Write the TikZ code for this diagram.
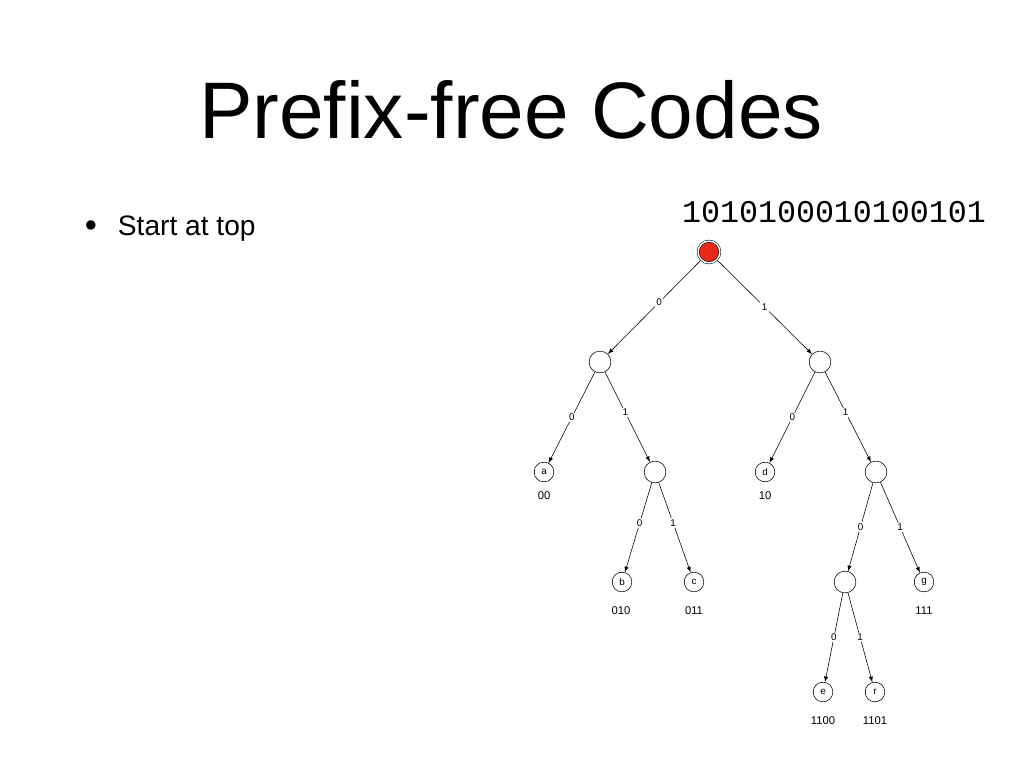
\documentclass[tikz,border=0pt]{standalone}
\usepackage{fontspec}
\setmainfont{Liberation Sans}
\newfontfamily\bitfont{Liberation Mono}
\definecolor{current}{RGB}{232,40,24}
\tikzstyle{vertex}=[circle, draw, fill=white, minimum size=14pt, inner sep=0pt, font=\fontsize{7}{8}\selectfont]
\tikzstyle{big}=[minimum size=15.5pt]
\tikzstyle{edge}=[-latex, thin]
\tikzstyle{bit}=[fill=white, inner sep=1pt, font=\fontsize{7}{8}\selectfont]
\tikzstyle{code}=[font=\fontsize{8}{9}\selectfont]

\begin{document}
\begin{tikzpicture}[x=0.025cm,y=-0.025cm]
  \useasboundingbox (0,0) rectangle (1024,768);
  \draw (511,110) node {\fontsize{57}{62}\selectfont Prefix-free Codes};
  \draw (91,226) node {\fontsize{18}{20}\selectfont $\bullet$};
  \draw (113,229) node[anchor=west] {\fontsize{20}{24}\selectfont Start at top};
  \draw (834,212) node {\bitfont\fontsize{22.5}{26}\selectfont 1010100010100101};

  \draw (709,252) node[vertex,big,fill=current,double=white,double distance=1pt] (root) {};
  \draw (600,362) node[vertex,big] (L) {};
  \draw (820,362) node[vertex,big] (R) {};

  \draw (544,472) node[vertex] (a) {a};
  \draw (655,472) node[vertex,big] (LR) {};
  \draw (765,472) node[vertex] (d) {d};
  \draw (876,472) node[vertex,big] (RR) {};

  \draw (622,582) node[vertex] (b) {b};
  \draw (694,582) node[vertex] (c) {c};
  \draw (845,582) node[vertex,big] (RRL) {};
  \draw (924,582) node[vertex] (g) {g};

  \draw (823,692) node[vertex] (e) {e};
  \draw (875,692) node[vertex] (r) {r};

  \draw[edge] (root) -- node[bit,pos=.45] {0} (L);
  \draw[edge] (root) -- node[bit,pos=.5] {1} (R);
  \draw[edge] (L) -- node[bit] {0} (a);
  \draw[edge] (L) -- node[bit,pos=.45] {1} (LR);
  \draw[edge] (R) -- node[bit] {0} (d);
  \draw[edge] (R) -- node[bit,pos=.45] {1} (RR);
  \draw[edge] (LR) -- node[bit,pos=.45] {0} (b);
  \draw[edge] (LR) -- node[bit,pos=.45] {1} (c);
  \draw[edge] (RR) -- node[bit,pos=.5] {0} (RRL);
  \draw[edge] (RR) -- node[bit,pos=.5] {1} (g);
  \draw[edge] (RRL) -- node[bit,pos=.5] {0} (e);
  \draw[edge] (RRL) -- node[bit,pos=.5] {1} (r);

  %% Codes
  \draw (544,496) node[code] {00};
  \draw (765,496) node[code] {10};
  \draw (621,611) node[code] {010};
  \draw (694,611) node[code] {011};
  \draw (924,611) node[code] {111};
  \draw (823,721) node[code] {1100};
  \draw (875,721) node[code] {1101};
\end{tikzpicture}
\end{document}
